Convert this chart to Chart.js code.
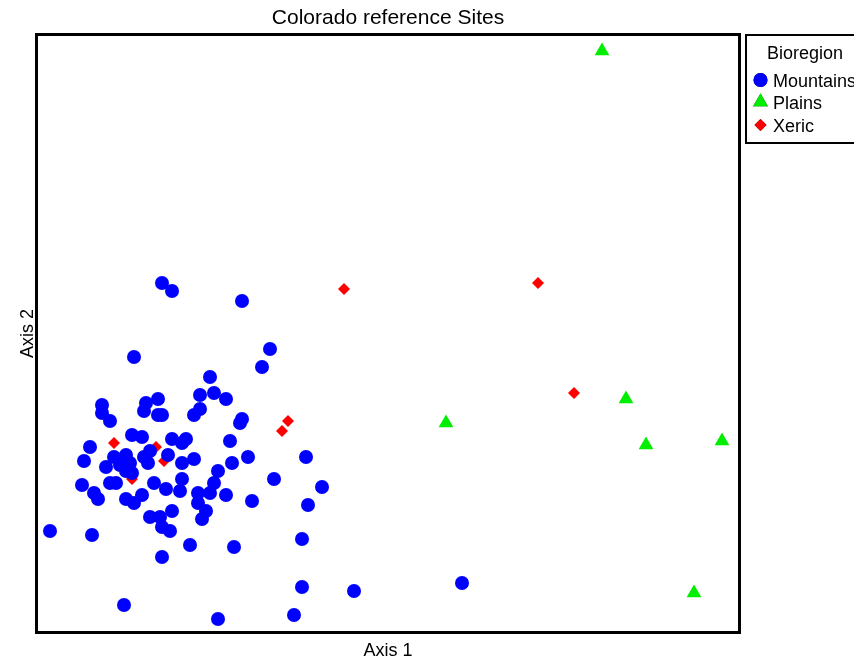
<!DOCTYPE html>
<html>
<head>
<meta charset="utf-8">
<script src="https://cdn.jsdelivr.net/npm/chart.js@4/dist/chart.umd.min.js"></script>
<style>
  html, body { margin: 0; padding: 0; background: #fff; }
  #wrap { width: 854px; height: 663px; position: relative; }
</style>
</head>
<body>
<div id="wrap"><canvas id="chart"></canvas></div>
<script>
// NMS-style ordination scores (Axis 1, Axis 2)
var mountainsX = [-0.38, -0.33, 0.02, -0.52, 0.16, 0.12, -0.14, -0.40, -0.46, -0.47,
  -0.40, -0.38, -0.19, -0.12, -0.06, -0.19, -0.22, -0.68, -0.68, -0.64,
  0.02, 0.01, -0.53, -0.48, -0.33, -0.26, -0.28, -0.04, -0.74, -0.77,
  -0.62, -0.56, -0.58, -0.54, -0.59, -0.66, -0.47, -0.44, -0.45, -0.35,
  -0.28, -0.22, -0.03, 0.05, 0.34, -0.53, -0.56, -0.78, -0.72, -0.70,
  -0.64, -0.61, -0.42, -0.36, -0.29, -0.28, -0.56, -0.52, -0.48, -0.20,
  -0.14, -0.12, -0.10, -0.20, -0.06, 0.07, 0.18, 0.42, 0.35, -0.16,
  -0.18, -0.33, -0.44, -0.39, -0.38, -0.34, -0.24, -0.02, 0.32, -0.94,
  -0.73, -0.38, 0.32, -0.57, -0.10, 0.28, 0.58, 1.12];
var mountainsY = [0.74, 0.70, 0.65, 0.37, 0.41, 0.32, 0.27, 0.16, 0.14, 0.10,
  0.08, 0.08, 0.18, 0.19, 0.16, 0.11, 0.08, 0.13, 0.09, 0.05,
  0.06, 0.04, -0.02, -0.03, -0.04, -0.04, -0.06, -0.05, -0.08, -0.15,
  -0.13, -0.12, -0.15, -0.16, -0.17, -0.18, -0.13, -0.10, -0.16, -0.12,
  -0.16, -0.14, -0.16, -0.13, -0.13, -0.21, -0.20, -0.27, -0.31, -0.34,
  -0.26, -0.26, -0.26, -0.29, -0.30, -0.24, -0.34, -0.36, -0.32, -0.31,
  -0.31, -0.26, -0.20, -0.36, -0.32, -0.35, -0.24, -0.28, -0.37, -0.40,
  -0.44, -0.40, -0.43, -0.43, -0.48, -0.50, -0.57, -0.58, -0.54, -0.50,
  -0.52, -0.63, -0.78, -0.87, -0.94, -0.92, -0.80, -0.76];
var plainsX = [1.82, 1.04, 1.94, 2.04, 2.42, 2.28];
var plainsY = [1.90, 0.04, 0.16, -0.07, -0.05, -0.81];
var xericX = [0.53, 1.50, 1.68, 0.25, 0.22, -0.62, -0.41, -0.37, -0.53];
var xericY = [0.71, 0.74, 0.19, 0.05, 0.00, -0.06, -0.08, -0.15, -0.24];

var groups = ['Mountains', 'Plains', 'Xeric'];
var groupColors = ['#0000ff', '#00ee00', '#ff0000'];
var groupShapes = ['circle', 'triangle', 'rectRot'];
var groupSizes = [7, 8.5, 6];

function toPoints(xs, ys) {
  var pts = [];
  for (var i = 0; i < xs.length; i++) pts.push({ x: xs[i], y: ys[i] });
  return pts;
}

var FONT = '"Liberation Sans", Arial, sans-serif';

// frame, titles and the boxed legend are painted by hand
var decorPlugin = {
  id: 'decor',
  afterDraw: function (chart) {
    var ctx = chart.ctx;
    var a = chart.chartArea;
    ctx.save();
    ctx.strokeStyle = '#000';
    ctx.lineWidth = 3;
    ctx.strokeRect(a.left - 1.5, a.top - 1.5, a.right - a.left + 3, a.bottom - a.top + 3);

    var cx = (a.left + a.right) / 2;
    ctx.fillStyle = '#000';
    ctx.textAlign = 'center';
    ctx.textBaseline = 'alphabetic';
    ctx.font = '21px ' + FONT;
    ctx.fillText('Colorado reference Sites', cx, 24);
    ctx.font = '18px ' + FONT;
    ctx.fillText('Axis 1', cx, 656);
    ctx.save();
    ctx.translate(33, (a.top + a.bottom) / 2);
    ctx.rotate(-Math.PI / 2);
    ctx.fillText('Axis 2', 0, 0);
    ctx.restore();

    // legend box (runs off the right edge like the original)
    ctx.lineWidth = 2;
    ctx.strokeRect(746, 35, 120, 108);
    ctx.font = '18px ' + FONT;
    ctx.textAlign = 'center';
    ctx.fillText('Bioregion', 805, 59);
    ctx.textAlign = 'left';
    var rowY = [80, 102, 125];
    for (var i = 0; i < groups.length; i++) {
      Chart.helpers.drawPoint(ctx, {
        pointStyle: groupShapes[i],
        radius: groupSizes[i],
        borderWidth: 0
      }, 760.5, rowY[i]);
      ctx.fillStyle = groupColors[i];
      ctx.fill();
      ctx.fillStyle = '#000';
      ctx.fillText(groups[i], 773, rowY[i] + 6.5);
    }
    ctx.restore();
  }
};

var datasets = [
  toPoints(mountainsX, mountainsY),
  toPoints(plainsX, plainsY),
  toPoints(xericX, xericY)
].map(function (pts, i) {
  return {
    label: groups[i],
    data: pts,
    pointStyle: groupShapes[i],
    pointRadius: groupSizes[i],
    pointHoverRadius: groupSizes[i],
    backgroundColor: groupColors[i],
    borderColor: groupColors[i],
    borderWidth: 0,
    clip: false
  };
});

new Chart(document.getElementById('chart'), {
  type: 'scatter',
  data: { datasets: datasets },
  options: {
    responsive: true,
    maintainAspectRatio: false,
    animation: false,
    events: [],
    layout: { padding: { left: 38, right: 116, top: 36, bottom: 32 } },
    plugins: {
      legend: { display: false },
      title: { display: false },
      tooltip: { enabled: false }
    },
    scales: {
      x: { type: 'linear', display: false, min: -1.0, max: 2.5 },
      y: { type: 'linear', display: false, min: -1.0, max: 1.975 }
    }
  },
  plugins: [decorPlugin]
});
</script>
</body>
</html>
